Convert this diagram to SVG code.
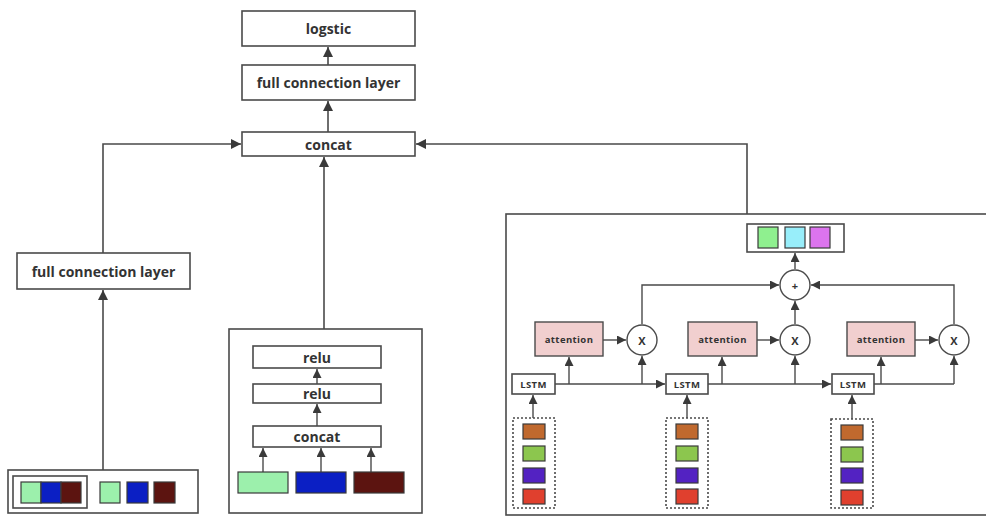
<svg xmlns="http://www.w3.org/2000/svg" width="986" height="517" viewBox="0 0 986 517">
  <defs>
    <marker id="arr" viewBox="0 0 10 10" refX="10" refY="5" markerWidth="10" markerHeight="10" markerUnits="userSpaceOnUse" orient="auto">
      <path d="M0,0 L10,5 L0,10 z" fill="#3a3a3a"/>
    </marker>
    <marker id="arrs" viewBox="0 0 10 10" refX="10" refY="5" markerWidth="9" markerHeight="9" markerUnits="userSpaceOnUse" orient="auto">
      <path d="M0,0 L10,5 L0,10 z" fill="#3a3a3a"/>
    </marker>
  </defs>
  <style>
    .box { fill: #ffffff; stroke: #4a4a4a; stroke-width: 1.6; }
    .frame { fill: none; stroke: #4a4a4a; stroke-width: 1.6; }
    .sq { stroke: #3a3a3a; stroke-width: 1.2; }
    .att { fill: #f1cfcf; stroke: #4a4a4a; stroke-width: 1.4; }
    .dot { fill: none; stroke: #4a4a4a; stroke-width: 1.6; stroke-dasharray: 2 2; }
    .op { fill: #ffffff; stroke: #4a4a4a; stroke-width: 1.4; }
    .ln { fill: none; stroke: #4a4a4a; stroke-width: 1.6; }
    .ln-a { fill: none; stroke: #4a4a4a; stroke-width: 1.6; marker-end: url(#arr); }
    .ln-s { fill: none; stroke: #4a4a4a; stroke-width: 1.4; marker-end: url(#arrs); }
    .t { font-family: "Open Sans", "Noto Sans", "Liberation Sans", sans-serif; font-weight: bold; fill: #333333; text-anchor: middle; dominant-baseline: central; }
    .big { font-size: 14px; }
    .small { font-size: 9.5px; letter-spacing: 0.4px; }
    .op-t { font-size: 11px; }
  </style>

  <rect width="986" height="517" fill="#ffffff"/>

  <!-- container frames sit underneath the wiring -->
  <g id="relu-block">
    <rect class="frame" x="229" y="329" width="193" height="184"/>
  </g>
  <g id="attention-block">
    <rect class="frame" x="506" y="214" width="484" height="301"/>
  </g>

  <!-- connectors -->
  <g id="connectors">
    <!-- main stack -->
    <line class="ln-a" x1="328" y1="65" x2="328" y2="47"/>
    <line class="ln-a" x1="328" y1="132" x2="328" y2="101"/>
    <polyline class="ln-a" points="103,253 103,144 241,144"/>
    <polyline class="ln-a" points="747,214 747,144 416,144"/>
    <line class="ln-a" x1="324" y1="329" x2="324" y2="157"/>
    <line class="ln-a" x1="103" y1="470" x2="103" y2="290"/>
    <!-- relu block -->
    <line class="ln-s" x1="317" y1="384" x2="317" y2="369"/>
    <line class="ln-s" x1="317" y1="426" x2="317" y2="404"/>
    <line class="ln-s" x1="263" y1="472" x2="263" y2="448"/>
    <line class="ln-s" x1="321" y1="472" x2="321" y2="448"/>
    <line class="ln-s" x1="371" y1="472" x2="371" y2="448"/>
    <!-- attention block: inputs to LSTM -->
    <line class="ln-s" x1="533" y1="418" x2="533" y2="395"/>
    <line class="ln-s" x1="687" y1="418" x2="687" y2="395"/>
    <line class="ln-s" x1="852" y1="419" x2="852" y2="395"/>
    <!-- LSTM chain -->
    <line class="ln-s" x1="555" y1="384" x2="665" y2="384"/>
    <line class="ln-s" x1="708" y1="384" x2="831" y2="384"/>
    <polyline class="ln" points="874,384 954,384"/>
    <!-- LSTM to attention -->
    <line class="ln-s" x1="569" y1="384" x2="569" y2="357"/>
    <line class="ln-s" x1="722" y1="384" x2="722" y2="357"/>
    <line class="ln-s" x1="881" y1="384" x2="881" y2="357"/>
    <!-- LSTM to multiply -->
    <line class="ln-s" x1="642" y1="384" x2="642" y2="356"/>
    <line class="ln-s" x1="795" y1="384" x2="795" y2="356"/>
    <line class="ln-s" x1="954" y1="384" x2="954" y2="356"/>
    <!-- attention to multiply -->
    <line class="ln-s" x1="603" y1="340" x2="626" y2="340"/>
    <line class="ln-s" x1="757" y1="340" x2="779" y2="340"/>
    <line class="ln-s" x1="915" y1="340" x2="938" y2="340"/>
    <!-- multiply to sum -->
    <polyline class="ln-s" points="642,324 642,285 779,285"/>
    <line class="ln-s" x1="795" y1="324" x2="795" y2="301"/>
    <polyline class="ln-s" points="954,324 954,285 811,285"/>
    <!-- sum to output -->
    <line class="ln-s" x1="795" y1="269" x2="795" y2="253"/>
  </g>

  <g id="logstic">
    <rect class="box" x="242" y="11" width="173" height="35"/>
    <text class="t big" x="328.5" y="28.5">logstic</text>
  </g>
  <g id="fc-top">
    <rect class="box" x="242" y="65" width="173" height="35"/>
    <text class="t big" x="328.5" y="82.5">full connection layer</text>
  </g>
  <g id="concat-top">
    <rect class="box" x="242" y="132" width="173" height="24"/>
    <text class="t big" x="328.5" y="144">concat</text>
  </g>
  <g id="fc-left">
    <rect class="box" x="17" y="253" width="173" height="36"/>
    <text class="t big" x="103.5" y="271">full connection layer</text>
  </g>

  <!-- embedding input -->
  <g id="embed-input">
    <rect class="box" x="8" y="470" width="190" height="43"/>
    <rect class="frame" x="13" y="476" width="74" height="32"/>
    <rect class="sq" x="21" y="482" width="20" height="21" fill="#9cf0ac"/>
    <rect class="sq" x="41" y="482" width="20" height="21" fill="#0b1fc4"/>
    <rect class="sq" x="61" y="482" width="20" height="21" fill="#5c1410"/>
    <rect class="sq" x="100" y="482" width="20" height="21" fill="#9cf0ac"/>
    <rect class="sq" x="127" y="482" width="21" height="21" fill="#0b1fc4"/>
    <rect class="sq" x="154" y="482" width="21" height="21" fill="#5c1410"/>
  </g>

  <!-- relu stack -->
  <g id="relu-top">
    <rect class="box" x="253" y="346" width="128" height="22"/>
    <text class="t big" x="317" y="357">relu</text>
  </g>
  <g id="relu-mid">
    <rect class="box" x="253" y="384" width="128" height="19"/>
    <text class="t big" x="317" y="393.5">relu</text>
  </g>
  <g id="concat-inner">
    <rect class="box" x="253" y="426" width="128" height="21"/>
    <text class="t big" x="317" y="436.5">concat</text>
  </g>
  <g id="relu-inputs">
    <rect class="sq" x="238" y="472" width="50" height="21" fill="#9cf0ac"/>
    <rect class="sq" x="296" y="472" width="50" height="21" fill="#0b1fc4"/>
    <rect class="sq" x="354" y="472" width="50" height="21" fill="#5c1410"/>
  </g>

  <!-- attention network -->
  <g id="output">
    <rect class="box" x="747" y="224" width="97" height="28"/>
    <rect class="sq" x="758" y="227" width="20" height="21" fill="#8ff08f"/>
    <rect class="sq" x="785" y="227" width="20" height="21" fill="#98eefa"/>
    <rect class="sq" x="810" y="227" width="20" height="21" fill="#dc74ee"/>
  </g>
  <g id="sum">
    <circle class="op" cx="795" cy="285" r="15"/>
    <text class="t op-t" x="795" y="285">+</text>
  </g>
  <g id="mul-1">
    <circle class="op" cx="642" cy="340" r="15"/>
    <text class="t op-t" x="642" y="340">X</text>
  </g>
  <g id="mul-2">
    <circle class="op" cx="795" cy="340" r="15"/>
    <text class="t op-t" x="795" y="340">X</text>
  </g>
  <g id="mul-3">
    <circle class="op" cx="954" cy="340" r="15"/>
    <text class="t op-t" x="954" y="340">X</text>
  </g>
  <g id="attention-1">
    <rect class="att" x="535" y="322" width="68" height="34"/>
    <text class="t small" x="569" y="339">attention</text>
  </g>
  <g id="attention-2">
    <rect class="att" x="688" y="322" width="69" height="34"/>
    <text class="t small" x="722.5" y="339">attention</text>
  </g>
  <g id="attention-3">
    <rect class="att" x="847" y="322" width="68" height="34"/>
    <text class="t small" x="881" y="339">attention</text>
  </g>
  <g id="lstm-1">
    <rect class="box" x="512" y="374" width="43" height="20"/>
    <text class="t small" x="533.5" y="384">LSTM</text>
  </g>
  <g id="lstm-2">
    <rect class="box" x="666" y="374" width="42" height="20"/>
    <text class="t small" x="687" y="384">LSTM</text>
  </g>
  <g id="lstm-3">
    <rect class="box" x="832" y="374" width="42" height="20"/>
    <text class="t small" x="853" y="384">LSTM</text>
  </g>
  <g id="features-1">
    <rect class="dot" x="513" y="418" width="42" height="90"/>
    <rect class="sq" x="523" y="424" width="22" height="15" fill="#c0692e"/>
    <rect class="sq" x="523" y="446" width="22" height="15" fill="#8cc64e"/>
    <rect class="sq" x="523" y="468" width="22" height="15" fill="#5322c2"/>
    <rect class="sq" x="523" y="489" width="22" height="15" fill="#e0402e"/>
  </g>
  <g id="features-2">
    <rect class="dot" x="666" y="418" width="42" height="90"/>
    <rect class="sq" x="676" y="424" width="22" height="15" fill="#c0692e"/>
    <rect class="sq" x="676" y="446" width="22" height="15" fill="#8cc64e"/>
    <rect class="sq" x="676" y="468" width="22" height="15" fill="#5322c2"/>
    <rect class="sq" x="676" y="489" width="22" height="15" fill="#e0402e"/>
  </g>
  <g id="features-3">
    <rect class="dot" x="831" y="419" width="42" height="89"/>
    <rect class="sq" x="841" y="425" width="22" height="15" fill="#c0692e"/>
    <rect class="sq" x="841" y="447" width="22" height="15" fill="#8cc64e"/>
    <rect class="sq" x="841" y="468" width="22" height="15" fill="#5322c2"/>
    <rect class="sq" x="841" y="490" width="22" height="15" fill="#e0402e"/>
  </g>
</svg>
